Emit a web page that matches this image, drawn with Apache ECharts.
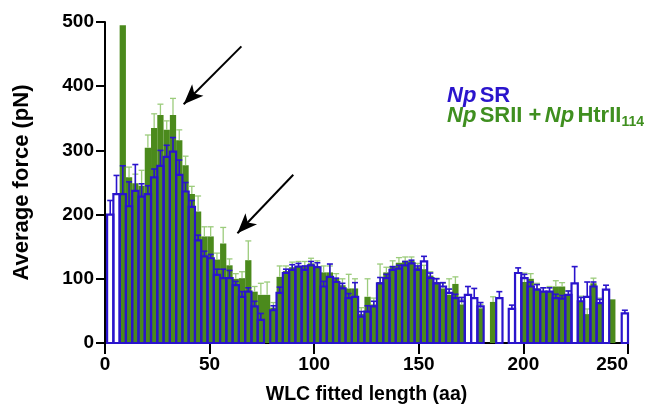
<!DOCTYPE html>
<html>
<head>
<meta charset="utf-8">
<script src="https://cdn.jsdelivr.net/npm/echarts@6/dist/echarts.min.js"></script>
<style>
  html, body { margin: 0; padding: 0; background: #fff; }
  #main { width: 652px; height: 411px; }
</style>
</head>
<body>
<div id="main"></div>
<script>
// histogram bins: 3 aa wide, starting at 1 aa
var binWidth = 3;
var binStart = [];
for (var i = 0; i < 83; i++) binStart.push(1 + i * binWidth);

// Np SR (blue outline), average force per bin (pN), null = empty bin
var srForce = [200, 232, 232, 213, 237, 228, 232, 258, 276, 290,
  298, 262, 236, 212, 160, 135, 132, 106, 101, 101,
  90, 72, 80, 57, 36, null, 51, 78, 109, 114,
  119, 114, 121, 118, 88, 103, 95, 85, 70, 72,
  41, 49, 57, 93, 101, 114, 116, 121, 124, 114,
  127, 101, 93, 88, 78, 70, 65, 75, 70, 57,
  null, null, 70, null, 53, 109, 101, 88, 83, 80,
  80, 70, 69, 75, 93, 65, 72, 88, 62, 83,
  null, null, 46];
var srErr = [22, 29, 44, 38, 41, 20, 13, 13, 24, 18,
  22, 23, 14, 10, 8, 8, 6, 9, 14, 12,
  6, 8, 6, 8, 10, null, 7, 9, 6, 8,
  5, 6, 6, 7, 8, 20, 6, 8, 7, 22,
  8, 9, 8, 9, 6, 5, 5, 6, 5, 6,
  8, 8, 7, 6, 6, 6, 6, 13, 15, 6,
  null, null, 10, null, 6, 8, 6, 7, 8, 6,
  6, 6, 5, 6, 26, 6, 23, 7, 6, 7,
  null, null, 5];

// Np SRII + Np HtrII114 (green filled)
var sriiForce = [null, null, 495, 258, 249, 245, 304, 335, 355, 332,
  355, 316, 277, 232, 205, 166, 166, 130, 155, 121,
  100, 101, 129, 80, 75, 75, 55, 103, 112, 118,
  120, 120, 124, 120, 110, 110, 100, 90, 85, 85,
  45, 72, 60, 95, 110, 120, 125, 128, 128, 118,
  115, 105, 95, 85, 75, 92, 60, null, null, 54,
  null, 64, null, null, null, null, 95, 100, 85, 80,
  80, 88, 88, 75, null, 65, 45, 93, 62, null,
  68, null, null];
var sriiErr = [null, null, 0, 16, 14, 24, 20, 22, 17, 14,
  26, 16, 14, 12, 24, 15, 15, 10, 25, 10,
  8, 10, 30, 8, 18, 20, 8, 17, 8, 8,
  7, 7, 8, 8, 10, 10, 8, 10, 22, 15,
  10, 28, 10, 28, 8, 8, 8, 6, 6, 6,
  6, 6, 6, 8, 25, 11, 8, null, null, 6,
  null, 8, null, null, null, null, 14, 8, 8, 6,
  8, 9, 6, 6, null, 8, 8, 8, 8, null,
  0, null, null];

var xTicks = [0, 50, 100, 150, 200, 250];
var yTicks = [0, 100, 200, 300, 400, 500];

var blue = '#2a14cc';
var green = '#4b8a1c';
var legendGreen = '#3f8f1f';
var lightGreen = '#9ccc7c';

function toData(force, err) {
  var out = [];
  for (var i = 0; i < binStart.length; i++) {
    if (force[i] == null) continue;
    out.push([binStart[i], force[i], err[i] || 0]);
  }
  return out;
}

function barRender(filled) {
  return function (params, api) {
    var x0 = api.value(0), v = api.value(1);
    var a = api.coord([x0, 0]);
    var b = api.coord([x0 + binWidth, v]);
    return {
      type: 'rect',
      shape: { x: a[0], y: b[1], width: b[0] - a[0], height: a[1] - b[1] },
      style: filled ? { fill: green, stroke: null }
                    : { fill: 'none', stroke: blue, lineWidth: 2.2 }
    };
  };
}

function errRender(color, lw) {
  return function (params, api) {
    var xc = api.value(0) + binWidth / 2, v = api.value(1), e = api.value(2);
    if (!e) return null;
    var top = api.coord([xc, v]);
    var hi = api.coord([xc, v + e]);
    var cap = 3;
    return {
      type: 'group',
      children: [
        { type: 'line', shape: { x1: top[0], y1: top[1], x2: hi[0], y2: hi[1] }, style: { stroke: color, lineWidth: lw } },
        { type: 'line', shape: { x1: hi[0] - cap, y1: hi[1], x2: hi[0] + cap, y2: hi[1] }, style: { stroke: color, lineWidth: lw } }
      ]
    };
  };
}

var font = 'Liberation Sans, Arial, sans-serif';
var chart = echarts.init(document.getElementById('main'));
chart.setOption({
  animation: false,
  grid: { left: 105, right: 24, top: 22, bottom: 68 },
  xAxis: {
    type: 'value', min: 0, max: 250, interval: 50,
    name: 'WLC fitted length (aa)', nameLocation: 'middle', nameGap: 42,
    nameTextStyle: { fontFamily: font, fontWeight: 'bold', fontSize: 19.5, color: '#000' },
    axisLine: { lineStyle: { color: '#000', width: 2 } },
    axisTick: { length: 11, lineStyle: { color: '#000', width: 2 } },
    axisLabel: { fontFamily: font, fontWeight: 'bold', fontSize: 19, color: '#000', margin: 12,
      alignMaxLabel: 'right',
      formatter: function (v) { return xTicks.indexOf(v) >= 0 ? String(v) : ''; } },
    splitLine: { show: false }
  },
  yAxis: {
    type: 'value', min: 0, max: 500, interval: 100,
    name: 'Average force (pN)', nameLocation: 'middle', nameGap: 72, nameRotate: 90,
    nameTextStyle: { fontFamily: font, fontWeight: 'bold', fontSize: 22, color: '#000' },
    axisLine: { show: true, lineStyle: { color: '#000', width: 2 } },
    axisTick: { show: true, length: 9, lineStyle: { color: '#000', width: 2 } },
    axisLabel: { fontFamily: font, fontWeight: 'bold', fontSize: 19, color: '#000', margin: 11,
      formatter: function (v) { return yTicks.indexOf(v) >= 0 ? String(v) : ''; } },
    splitLine: { show: false }
  },
  graphic: [{
    type: 'text', left: 447, top: 85,
    style: {
      text: '{i|Np} {n|SR}',
      fill: blue,
      rich: {
        i: { fontFamily: font, fontWeight: 'bold', fontStyle: 'italic', fontSize: 22, fill: blue },
        n: { fontFamily: font, fontWeight: 'bold', fontSize: 22, fill: blue }
      }
    }
  }, {
    type: 'text', left: 447, top: 105,
    style: {
      text: '{i|Np} {n|SRII +} {i|Np} {n|HtrII}{s|114}',
      fill: legendGreen,
      rich: {
        i: { fontFamily: font, fontWeight: 'bold', fontStyle: 'italic', fontSize: 22, fill: legendGreen },
        n: { fontFamily: font, fontWeight: 'bold', fontSize: 22, fill: legendGreen },
        s: { fontFamily: font, fontWeight: 'bold', fontSize: 14, fill: legendGreen, padding: [13, 0, 0, 0] }
      }
    }
  }],
  series: [{
    type: 'custom', name: 'SRII bars', renderItem: barRender(true),
    data: toData(sriiForce, sriiErr), encode: { x: 0, y: 1 }, z: 1
  }, {
    type: 'custom', name: 'SRII err', renderItem: errRender(lightGreen, 1.3),
    data: toData(sriiForce, sriiErr), encode: { x: 0, y: [1, 2] }, z: 2
  }, {
    type: 'custom', name: 'SR bars', renderItem: barRender(false),
    data: toData(srForce, srErr), encode: { x: 0, y: 1 }, z: 3
  }, {
    type: 'custom', name: 'SR err', renderItem: errRender(blue, 1.6),
    data: toData(srForce, srErr), encode: { x: 0, y: [1, 2] }, z: 4
  }, {
    type: 'line', name: 'arrows', data: [], z: 5,
    markLine: {
      silent: true, symbol: ['none', 'arrow'], symbolSize: [12, 20],
      label: { show: false },
      lineStyle: { color: '#000', width: 2, type: 'solid' },
      data: [
        [{ coord: [65.2, 462] }, { coord: [37.6, 372] }],
        [{ coord: [90, 262] }, { coord: [63.3, 171] }]
      ]
    }
  }]
});
</script>
</body>
</html>
